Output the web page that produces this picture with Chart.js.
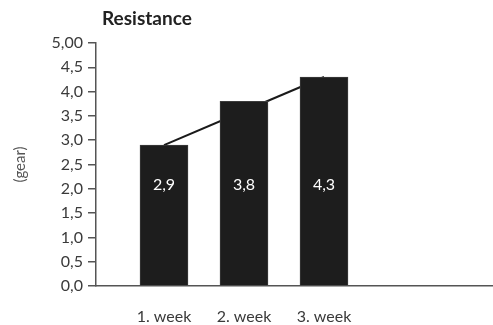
<!DOCTYPE html>
<html>
<head>
<meta charset="utf-8">
<script src="https://cdn.jsdelivr.net/npm/chart.js@4/dist/chart.umd.min.js"></script>
<style>
  html, body { margin: 0; padding: 0; background: #fff; }
  #wrap { width: 493px; height: 325px; position: relative; }
</style>
</head>
<body>
<div id="wrap"><canvas id="c" width="493" height="325"></canvas></div>
<script>
// Weekly resistance (gear) with trend line
const weeks = ['1. week', '2. week', '3. week'];
const weekPos = [1, 2, 3];
const resistance = [2.9, 3.8, 4.3];
const valueLabels = ['2,9', '3,8', '4,3'];
const trend = [2.9, 3.6, 4.3];
const yTickLabels = ['0,0', '0,5', '1,0', '1,5', '2,0', '2,5', '3,0', '3,5', '4,0', '4,5', '5,00'];

const FONT = 'Lato, "Open Sans", sans-serif';
const LABEL_LEVEL = 2.08; // height at which value labels sit inside bars

const overlay = {
  id: 'overlay',
  afterDatasetsDraw(chart) {
    const { ctx, scales } = chart;
    ctx.save();
    // chart title
    ctx.fillStyle = '#222';
    ctx.font = 'bold 19px ' + FONT;
    ctx.textAlign = 'left';
    ctx.textBaseline = 'middle';
    ctx.fillText('Resistance', 102, 19);
    // value labels inside bars
    ctx.fillStyle = '#fff';
    ctx.font = '16px ' + FONT;
    ctx.textAlign = 'center';
    const y = scales.y.getPixelForValue(LABEL_LEVEL);
    weekPos.forEach((p, i) => {
      ctx.fillText(valueLabels[i], scales.x.getPixelForValue(p), y);
    });
    ctx.restore();
  }
};

new Chart(document.getElementById('c'), {
  type: 'bar',
  data: {
    datasets: [
      {
        type: 'bar',
        data: weekPos.map((p, i) => ({ x: p, y: resistance[i] })),
        backgroundColor: '#1d1d1d',
        borderColor: '#3c3c3c',
        borderWidth: 1,
        barThickness: 48,
        order: 1
      },
      {
        type: 'line',
        data: weekPos.map((p, i) => ({ x: p, y: trend[i] })),
        borderColor: '#1a1a1a',
        borderWidth: 2,
        pointRadius: 0,
        tension: 0,
        order: 2
      }
    ]
  },
  options: {
    responsive: false,
    animation: false,
    layout: { padding: { top: 43, left: 0, right: 0, bottom: 0 } },
    plugins: { legend: { display: false }, tooltip: { enabled: false }, title: { display: false } },
    scales: {
      x: {
        type: 'linear',
        min: 0.15,
        max: 5.1125,
        offset: false,
        afterFit(s) { s.height = 39; },
        afterBuildTicks(s) { s.ticks = weekPos.map(v => ({ value: v })); },
        grid: { display: false, drawTicks: false },
        border: { display: true, color: '#555', width: 1.5 },
        ticks: {
          color: '#3a3a3a',
          font: { family: FONT, size: 16 },
          padding: 21,
          autoSkip: false,
          maxRotation: 0,
          callback: (v, i) => weeks[i]
        }
      },
      y: {
        min: 0,
        max: 5,
        afterFit(s) { s.width = 96; },
        grid: { drawOnChartArea: false, drawTicks: true, tickLength: 8, color: '#555', lineWidth: 1.5 },
        border: { display: true, color: '#555', width: 1.5 },
        ticks: {
          stepSize: 0.5,
          color: '#3a3a3a',
          font: { family: FONT, size: 16 },
          padding: 5,
          callback: (v, i) => yTickLabels[i]
        },
        title: {
          display: true,
          text: '(gear)',
          color: '#555',
          font: { family: FONT, size: 15 },
          padding: { top: 11, bottom: 4 }
        }
      }
    }
  },
  plugins: [overlay]
});
</script>
</body>
</html>
